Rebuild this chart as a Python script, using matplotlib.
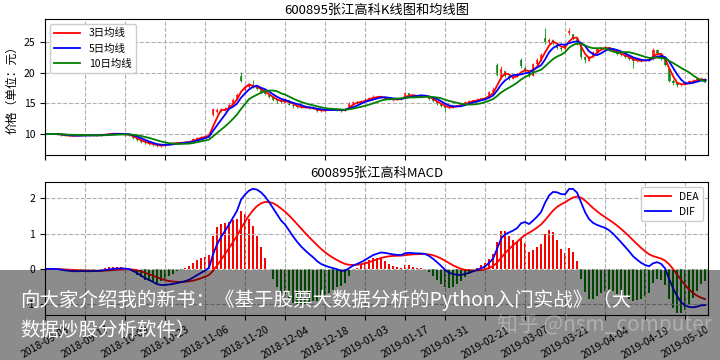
import matplotlib
matplotlib.use("Agg")
import matplotlib.pyplot as plt
import numpy as np
import pandas as pd

plt.rcParams["font.family"] = ["Noto Sans CJK SC", "DejaVu Sans"]
plt.rcParams["axes.unicode_minus"] = False

# daily prices (trading-day index 0 = 2018-09-03)
opens = [
    10.0, 10.0, 10.0, 10.05, 9.95, 9.8, 9.7, 9.75, 9.7, 9.8,
    9.85, 9.8, 9.75, 9.85, 9.8, 9.9, 10.0, 10.05, 10.1, 10.0,
    9.8, 9.9, 9.6, 9.3, 8.9, 8.6, 8.4, 8.4, 8.2, 8.0,
    8.2, 8.4, 8.5, 8.5, 8.6, 8.6, 8.7, 8.8, 9.2, 9.4,
    9.5, 9.7, 13.1, 13.6, 13.9, 13.8, 14.1, 14.8, 15.6, 19.4,
    17.2, 17.7, 17.9, 17.8, 17.3, 16.9, 16.4, 16.0, 15.6, 15.3,
    15.1, 15.5, 14.8, 14.5, 14.4, 14.3, 14.3, 14.2, 14.1, 13.7,
    13.8, 14.0, 14.0, 14.0, 13.9, 13.8, 14.1, 15.0, 15.2, 15.1,
    15.3, 15.6, 15.9, 16.1, 16.0, 16.1, 15.7, 15.6, 15.6, 15.7,
    15.9, 16.6, 16.3, 16.1, 16.2, 16.3, 16.2, 15.7, 15.3, 14.9,
    14.6, 14.2, 14.3, 14.6, 14.7, 14.8, 15.2, 15.3, 15.5, 15.6,
    15.8, 15.9, 16.8, 21.2, 19.2, 20.2, 19.4, 19.0, 19.3, 22.0,
    20.8, 20.0, 19.5, 21.4, 22.0, 25.6, 24.8, 25.3, 24.5, 23.9,
    23.8, 26.4, 26.2, 25.5, 24.5, 22.5, 21.9, 22.6, 23.3, 23.8,
    24.0, 24.1, 23.8, 23.4, 23.0, 22.8, 22.5, 22.2, 21.8, 22.0,
    21.9, 22.0, 22.2, 23.6, 23.0, 22.2, 20.5, 18.7, 18.3, 18.0,
    18.0, 18.3, 18.6, 18.7, 18.9, 19.0,
]
closes = [
    10.0, 10.02, 10.05, 9.95, 9.8, 9.7, 9.75, 9.7, 9.8, 9.85,
    9.8, 9.75, 9.85, 9.8, 9.9, 10.0, 10.05, 10.1, 10.0, 10.05,
    9.9, 9.8, 9.3, 9.0, 8.7, 8.5, 8.5, 8.2, 8.0, 8.2,
    8.4, 8.5, 8.5, 8.6, 8.6, 8.7, 8.8, 9.2, 9.4, 9.5,
    9.7, 10.0, 14.0, 13.9, 13.8, 14.1, 14.8, 15.6, 16.4, 18.6,
    17.7, 17.9, 17.8, 17.3, 16.9, 16.5, 16.0, 15.6, 15.3, 15.2,
    15.6, 14.8, 14.5, 14.4, 14.3, 14.35, 14.2, 14.1, 13.7, 13.8,
    14.0, 14.0, 14.0, 13.9, 13.7, 14.1, 15.0, 15.2, 15.1, 15.3,
    15.6, 15.9, 16.1, 16.0, 16.1, 15.7, 15.6, 15.6, 15.7, 15.8,
    16.6, 16.3, 16.1, 16.2, 16.3, 16.2, 15.7, 15.3, 14.9, 14.6,
    14.2, 14.3, 14.6, 14.7, 14.8, 15.2, 15.3, 15.5, 15.6, 15.8,
    15.9, 16.8, 17.2, 19.6, 20.6, 19.4, 19.0, 19.3, 19.8, 21.0,
    20.3, 19.4, 21.4, 22.0, 22.8, 25.0, 25.3, 24.8, 24.0, 23.8,
    24.5, 26.8, 25.6, 24.6, 22.5, 22.0, 22.5, 23.3, 23.8, 24.0,
    24.1, 23.8, 23.4, 23.0, 22.8, 22.5, 22.2, 21.8, 22.0, 21.9,
    22.0, 22.2, 23.6, 23.2, 22.3, 21.2, 18.7, 18.3, 18.0, 18.0,
    18.3, 18.6, 18.7, 18.9, 19.0, 18.6,
]
highs = [
    10.05, 10.05, 10.1, 10.1, 10.0, 9.85, 9.8, 9.8, 9.85, 9.9,
    9.9, 9.85, 9.9, 9.9, 9.95, 10.05, 10.1, 10.15, 10.15, 10.1,
    10.0, 9.95, 9.7, 9.4, 9.0, 8.8, 8.6, 8.5, 8.3, 8.3,
    8.5, 8.6, 8.6, 8.7, 8.7, 8.8, 8.9, 9.3, 9.6, 9.7,
    9.8, 10.2, 14.2, 14.3, 14.2, 14.4, 15.0, 15.9, 16.6, 20.1,
    18.0, 18.3, 18.8, 17.9, 17.4, 17.0, 16.5, 16.1, 15.7, 15.5,
    15.8, 15.6, 14.9, 14.6, 14.5, 14.5, 14.4, 14.3, 14.2, 13.9,
    14.1, 14.1, 14.1, 14.1, 14.0, 14.2, 15.2, 15.4, 15.3, 15.5,
    15.8, 16.1, 16.3, 16.2, 16.2, 16.2, 15.8, 15.7, 15.8, 15.9,
    16.9, 16.7, 16.4, 16.3, 16.4, 16.4, 16.3, 15.8, 15.4, 15.0,
    14.7, 14.5, 14.7, 14.8, 14.9, 15.4, 15.5, 15.6, 15.8, 15.9,
    16.1, 17.0, 17.6, 21.5, 21.0, 20.3, 19.6, 19.5, 20.0, 22.3,
    21.0, 20.1, 21.6, 22.3, 23.1, 27.2, 25.6, 25.5, 24.7, 24.2,
    24.8, 27.2, 26.3, 25.6, 24.6, 22.7, 22.7, 23.5, 24.0, 24.2,
    24.3, 24.2, 23.9, 23.5, 23.1, 22.9, 22.6, 22.3, 22.2, 22.1,
    22.2, 22.4, 23.9, 23.8, 23.1, 22.3, 20.6, 18.9, 18.5, 18.2,
    18.5, 18.8, 18.9, 19.1, 19.2, 19.1,
]
lows = [
    9.95, 9.95, 9.95, 9.9, 9.75, 9.65, 9.65, 9.65, 9.65, 9.75,
    9.75, 9.7, 9.7, 9.75, 9.75, 9.85, 9.95, 10.0, 9.95, 9.95,
    9.75, 9.7, 9.2, 8.9, 8.6, 8.4, 8.3, 8.1, 7.85, 7.95,
    8.1, 8.3, 8.4, 8.4, 8.5, 8.5, 8.6, 8.8, 9.1, 9.3,
    9.4, 9.6, 13.0, 13.5, 13.6, 13.7, 14.0, 14.7, 15.5, 18.4,
    17.0, 17.5, 17.5, 17.1, 16.7, 16.3, 15.8, 15.4, 15.1, 15.0,
    15.0, 14.7, 14.3, 14.2, 14.2, 14.2, 14.1, 14.0, 13.6, 13.6,
    13.7, 13.9, 13.9, 13.8, 13.6, 13.7, 14.0, 14.9, 14.9, 15.0,
    15.2, 15.5, 15.8, 15.9, 15.9, 15.6, 15.5, 15.4, 15.5, 15.6,
    15.8, 16.2, 16.0, 16.0, 16.1, 16.0, 15.6, 15.2, 14.8, 14.4,
    13.8, 14.1, 14.2, 14.5, 14.6, 14.7, 15.1, 15.2, 15.4, 15.5,
    15.7, 15.8, 16.7, 19.4, 18.9, 19.2, 18.8, 18.9, 19.2, 20.8,
    20.1, 19.2, 19.4, 21.2, 21.9, 24.6, 24.5, 24.5, 23.8, 23.5,
    23.7, 26.1, 25.3, 24.4, 22.2, 21.5, 21.8, 22.5, 23.2, 23.7,
    23.8, 23.6, 23.3, 22.9, 22.6, 22.3, 22.0, 20.7, 21.7, 21.7,
    21.8, 21.9, 22.1, 22.9, 22.1, 21.0, 18.5, 18.0, 17.7, 17.8,
    17.9, 18.2, 18.5, 18.6, 18.8, 18.4,
]

tick_labels = [
    "2018-09-03", "2018-09-17", "2018-10-09", "2018-10-23", "2018-11-06",
    "2018-11-20", "2018-12-04", "2018-12-18", "2019-01-03", "2019-01-17",
    "2019-01-31", "2019-02-21", "2019-03-07", "2019-03-21", "2019-04-04",
    "2019-04-19", "2019-05-10",
]

df = pd.DataFrame({"open": opens, "close": closes, "high": highs, "low": lows})
x = np.arange(len(df))

ma3 = df["close"].rolling(3, min_periods=1).mean()
ma5 = df["close"].rolling(5, min_periods=1).mean()
ma10 = df["close"].rolling(10, min_periods=1).mean()

ema12 = df["close"].ewm(span=12, adjust=False).mean()
ema26 = df["close"].ewm(span=26, adjust=False).mean()
dif = ema12 - ema26
dea = dif.ewm(span=9, adjust=False).mean()
macd_bar = 2 * (dif - dea)

fig = plt.figure(figsize=(7.2, 3.6), dpi=100)
ax1 = fig.add_axes([0.0625, 0.5694, 0.921, 0.378])
ax2 = fig.add_axes([0.0625, 0.125, 0.921, 0.369])

# candlesticks
up = df["close"] >= df["open"]
colors = np.where(up, "red", "green")
body_low = np.minimum(df["open"], df["close"])
body_h = np.abs(df["close"] - df["open"]).clip(lower=0.06)
ax1.vlines(x, df["low"], df["high"], colors=colors, linewidth=0.8, alpha=0.75)
ax1.bar(x, body_h, bottom=body_low, width=0.7, color=colors, alpha=0.75)

ax1.plot(x, ma3, color="red", lw=1.3, label="3日均线")
ax1.plot(x, ma5, color="blue", lw=1.3, label="5日均线")
ax1.plot(x, ma10, color="green", lw=1.3, label="10日均线")
ax1.set_title("600895张江高科K线图和均线图", fontsize=9.5, pad=4)
ax1.set_ylabel("价格（单位：元）", fontsize=8.5)
ax1.set_ylim(6.6, 28.7)
ax1.set_yticks([10, 15, 20, 25])
ax1.legend(loc="upper left", fontsize=7.5, handlelength=2.5, framealpha=1)

# MACD
bar_colors = np.where(macd_bar >= 0, "red", "green")
ax2.bar(x, macd_bar, width=0.5, color=bar_colors)
ax2.plot(x, dea, color="red", lw=1.3, label="DEA")
ax2.plot(x, dif, color="blue", lw=1.3, label="DIF")
ax2.set_title("600895张江高科MACD", fontsize=9.5, pad=4)
ax2.set_ylim(-1.3, 2.46)
ax2.set_yticks([-1, 0, 1, 2])
ax2.legend(loc="upper right", fontsize=7.5, handlelength=2.5, framealpha=1)

ticks = np.arange(0, len(df), 10)[:len(tick_labels)]
for ax in (ax1, ax2):
    ax.set_xlim(0, len(df) - 0.25)
    ax.set_xticks(ticks)
    ax.grid(True, linestyle="--", color="#b0b0b0", linewidth=0.8)
    ax.tick_params(labelsize=7.5)
ax1.set_xticklabels([])
ax2.set_xticklabels(tick_labels, rotation=30, fontsize=7.5)

# banner overlay and watermark
fig.patches.append(plt.Rectangle((0, 0), 1, 0.25, transform=fig.transFigure,
                                 facecolor="black", alpha=0.45, zorder=10))
fig.text(0.028, 0.167, "向大家介绍我的新书：《基于股票大数据分析的Python入门实战》（大",
         color="white", fontsize=14, va="center", zorder=11)
fig.text(0.028, 0.083, "数据炒股分析软件）",
         color="white", fontsize=14, va="center", zorder=11)
fig.text(0.69, 0.098, "知乎 @hsm_computer", color="white", alpha=0.3,
         fontsize=15, va="center", zorder=11)

fig.savefig("out.png", dpi=100)
